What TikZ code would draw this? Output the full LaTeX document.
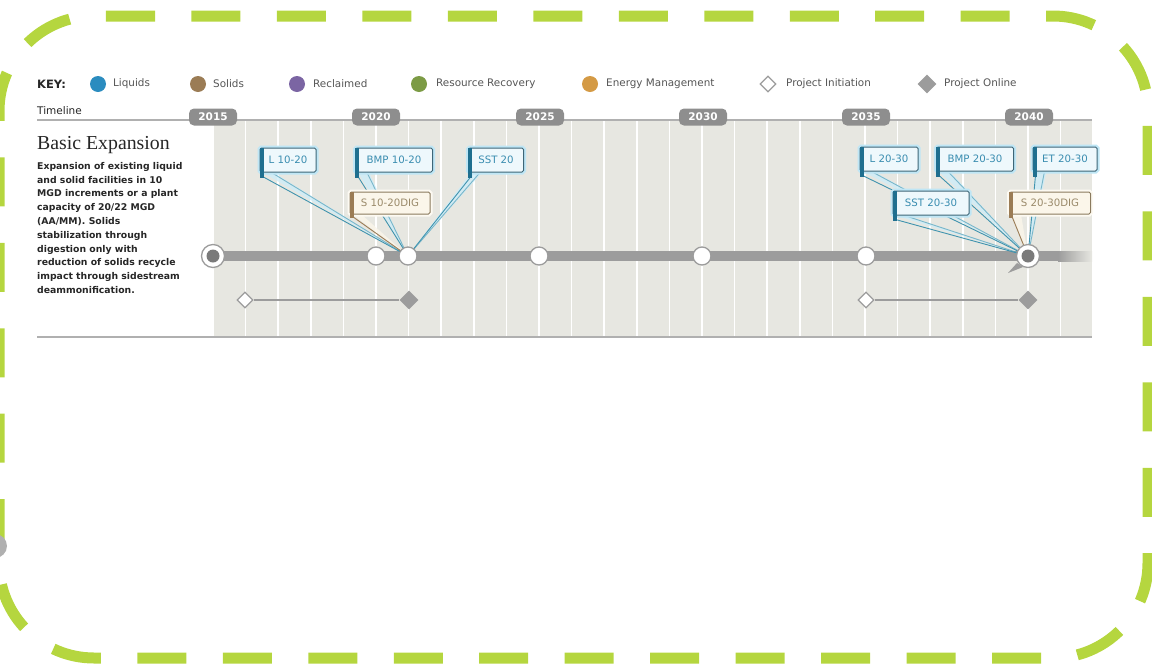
\documentclass[tikz,border=0pt]{standalone}
\usepackage{fontspec}
\setmainfont{DejaVu Sans}
\newfontfamily\seriffont{Liberation Serif}
\usetikzlibrary{shapes.geometric,calc}
\pgfdeclarelayer{bg}
\pgfdeclarelayer{mid}
\pgfsetlayers{bg,mid,main}
\definecolor{lime}{HTML}{B5D63F}
\definecolor{colbg}{HTML}{E7E7E1}
\definecolor{bargray}{HTML}{9C9C9C}
\definecolor{darkdot}{HTML}{7A7A7A}
\definecolor{pillgray}{HTML}{8E8E8E}
\definecolor{keytext}{HTML}{555555}
\definecolor{desctext}{HTML}{262626}
\definecolor{cliq}{HTML}{2B8CBF}
\definecolor{csol}{HTML}{9B7C55}
\definecolor{crec}{HTML}{7B65A3}
\definecolor{cres}{HTML}{7C9B45}
\definecolor{cene}{HTML}{D49A45}
\definecolor{boxborder}{HTML}{3E6677}
\definecolor{boxfill}{HTML}{EEF8FC}
\definecolor{boxtext}{HTML}{3A8DB0}
\definecolor{accentblue}{HTML}{1F6F8F}
\definecolor{glow}{HTML}{BFE6F5}
\definecolor{sborder}{HTML}{8A7A5E}
\definecolor{sfill}{HTML}{FBF6EA}
\definecolor{stext}{HTML}{9A8A6A}
\definecolor{saccent}{HTML}{9B7C55}
\definecolor{leadblue}{HTML}{3F93AE}
\definecolor{wedgeblue}{HTML}{CDEDF8}
\begin{document}
\begin{tikzpicture}[x=1pt,y=-1pt,
  keylbl/.style={anchor=west,text=keytext,font=\fontsize{10.4}{11}\selectfont,inner sep=0},
  keydot/.style={circle,minimum size=16,inner sep=0},
  pill/.style={fill=pillgray,rounded corners=5,minimum width=48,minimum height=17,inner sep=0,text=white,font=\bfseries\fontsize{10.5}{11}\selectfont},
  tcirc/.style={circle,fill=white,draw=bargray,line width=1.3,minimum size=18,inner sep=0},
  bigcirc/.style={circle,fill=white,draw=bargray,line width=1.3,minimum size=23,inner sep=0},
  initd/.style={diamond,draw=bargray,fill=white,line width=1.2,minimum size=16,inner sep=0},
  onld/.style={diamond,fill=bargray,minimum size=19,inner sep=0},
  callout/.style={draw=boxborder,fill=boxfill,text=boxtext,line width=1,rounded corners=1.5,
     font=\fontsize{10.2}{10}\selectfont,minimum height=24,inner sep=0,
     preaction={draw=glow,line width=5}},
  scallout/.style={draw=sborder,fill=sfill,text=stext,line width=1,rounded corners=1.5,
     font=\fontsize{10.2}{10}\selectfont,minimum height=22,inner sep=0,
     preaction={draw=sfill!60!white,line width=5}},
  accent/.style={draw=accentblue,line width=4},
  saccentline/.style={draw=saccent,line width=4},
  wedge/.style={fill=wedgeblue,opacity=0.8},
  leader/.style={draw=leadblue,line width=0.9},
  sleader/.style={draw=saccent,line width=0.9},
  border/.style={draw=lime,line width=11,dash pattern=on 49 off 36.47}
]
\useasboundingbox (0,0) rectangle (1152,670);

% outer dashed border
\draw[border] (106,16) -- (1053,16) arc[start angle=270,end angle=360,radius=95]
  -- (1148,563) arc[start angle=0,end angle=90,radius=95]
  -- (94,658) arc[start angle=90,end angle=180,radius=95]
  -- (-1,111) arc[start angle=180,end angle=270,radius=95] -- (106,16);
\fill[bargray!80] (-5,546) circle (12);

% key
\node[anchor=west,font=\bfseries\fontsize{11.5}{12}\selectfont,text=desctext,inner sep=0] (key) at (37,84) {KEY:};
\node[keydot,fill=cliq] (k1) at (98,84) {};
\node[keylbl] (k1t) at (113,84) {Liquids};
\node[keydot,fill=csol] (k2) at (198,84) {};
\node[keylbl] (k2t) at (213,84) {Solids};
\node[keydot,fill=crec] (k3) at (297,84) {};
\node[keylbl] (k3t) at (313,84) {Reclaimed};
\node[keydot,fill=cres] (k4) at (419,84) {};
\node[keylbl] (k4t) at (436,84) {Resource Recovery};
\node[keydot,fill=cene] (k5) at (590,84) {};
\node[keylbl] (k5t) at (606,84) {Energy Management};
\node[initd] (k6) at (768,84) {};
\node[keylbl] (k6t) at (786,84) {Project Initiation};
\node[onld] (k7) at (927,84) {};
\node[keylbl] (k7t) at (944,84) {Project Online};

% timeline header
\node[anchor=west,font=\fontsize{10.5}{11}\selectfont,text=desctext,inner sep=0] (tl) at (37,111) {Timeline};
\begin{pgfonlayer}{bg}
\fill[colbg] (213,121) rectangle (1092,336);
\foreach \k in {0,...,26} \draw[white,line width=1.6] ({213+32.6*\k},121) -- ({213+32.6*\k},336);
\draw[bargray!80,line width=2] (37,120) -- (1092,120);
\draw[bargray!80,line width=1.5] (37,337) -- (1092,337);
\end{pgfonlayer}
\node[pill] (y15) at (213,117) {2015};
\node[pill] (y20) at (376,117) {2020};
\node[pill] (y25) at (540,117) {2025};
\node[pill] (y30) at (703,117) {2030};
\node[pill] (y35) at (866,117) {2035};
\node[pill] (y40) at (1029,117) {2040};

% left text
\node[anchor=west,inner sep=0,text=desctext,font=\seriffont\fontsize{19.8}{20}\selectfont] (title) at (37,145) {Basic Expansion};
\node[anchor=north west,inner sep=0,text=desctext,align=left,font=\bfseries\fontsize{9.3}{13.8}\selectfont] (desc) at (37,162)
 {Expansion of existing liquid\\and solid facilities in 10\\MGD increments or a plant\\capacity of 20/22 MGD\\(AA/MM). Solids\\stabilization through\\digestion only with\\reduction of solids recycle\\impact through sidestream\\deammonification.};

% main bar
\begin{pgfonlayer}{bg}
\fill[bargray] (213,251) rectangle (1058,261);
\shade[left color=bargray,right color=colbg] (1058,251) rectangle (1092,261);
\end{pgfonlayer}
\node[bigcirc] (c15) at (213,256) {};
\fill[darkdot] (c15.center) circle (6.5);
\node[tcirc] (c20) at (376,256) {};
\node[tcirc] (c21) at (408,256) {};
\node[tcirc] (c25) at (539,256) {};
\node[tcirc] (c30) at (702,256) {};
\node[tcirc] (c35) at (866,256) {};
\node[bigcirc] (c40) at (1028,256) {};
\fill[darkdot] (c40.center) circle (6.5);
\fill[bargray] (1017,263) -- (1023,267) -- (1008,273) -- cycle;

% project rows
\node[initd] (i1) at (245,300) {};
\node[onld] (o1) at (409,300) {};
\node[initd] (i2) at (866,300) {};
\node[onld] (o2) at (1028,300) {};
\begin{pgfonlayer}{mid}
\draw[bargray,line width=2.8] (i1) -- (o1);
\draw[bargray,line width=2.8] (i2) -- (o2);
\end{pgfonlayer}

% callouts left group
\node[callout,minimum width=56] (a1) at (288,160) {L 10-20};
\node[callout,minimum width=77] (a2) at (394,160) {BMP 10-20};
\node[callout,minimum width=55] (a3) at (496,160) {SST 20};
\node[scallout,minimum width=80] (a4) at (390,203) {S 10-20DIG};
% callouts right group
\node[callout,minimum width=58] (b1) at (889,159) {L 20-30};
\node[callout,minimum width=77] (b2) at (975,159) {BMP 20-30};
\node[callout,minimum width=64] (b3) at (1065,159) {ET 20-30};
\node[callout,minimum width=76] (b4) at (931,203) {SST 20-30};
\node[scallout,minimum width=81] (b5) at (1050,203) {S 20-30DIG};

\foreach \n in {a1,a2,a3,b1,b2,b3,b4}
  \draw[accent] ($(\n.north west)+(2,0.5)$) -- ($(\n.south west)+(2,5)$);
\foreach \n in {a4,b5}
  \draw[saccentline] ($(\n.north west)+(2,0.5)$) -- ($(\n.south west)+(2,3)$);

\begin{pgfonlayer}{mid}
\foreach \n/\t in {a1/c21,a2/c21,a3/c21,b1/c40,b2/c40,b3/c40,b4/c40} {
  \fill[wedge] ($(\n.south west)+(3,0)$) -- (\t.center) -- ($(\n.south west)+(14,0)$) -- cycle;
  \draw[leader] ($(\n.south west)+(3,4)$) -- (\t.center);
  \draw[leader,opacity=0.6] ($(\n.south west)+(12,0)$) -- (\t.center);
}
\foreach \n/\t in {a4/c21,b5/c40} {
  \fill[wedge,fill=sfill] ($(\n.south west)+(3,0)$) -- (\t.center) -- ($(\n.south west)+(12,0)$) -- cycle;
  \draw[sleader] ($(\n.south west)+(3,2)$) -- (\t.center);
}
\end{pgfonlayer}
\end{tikzpicture}
\end{document}
